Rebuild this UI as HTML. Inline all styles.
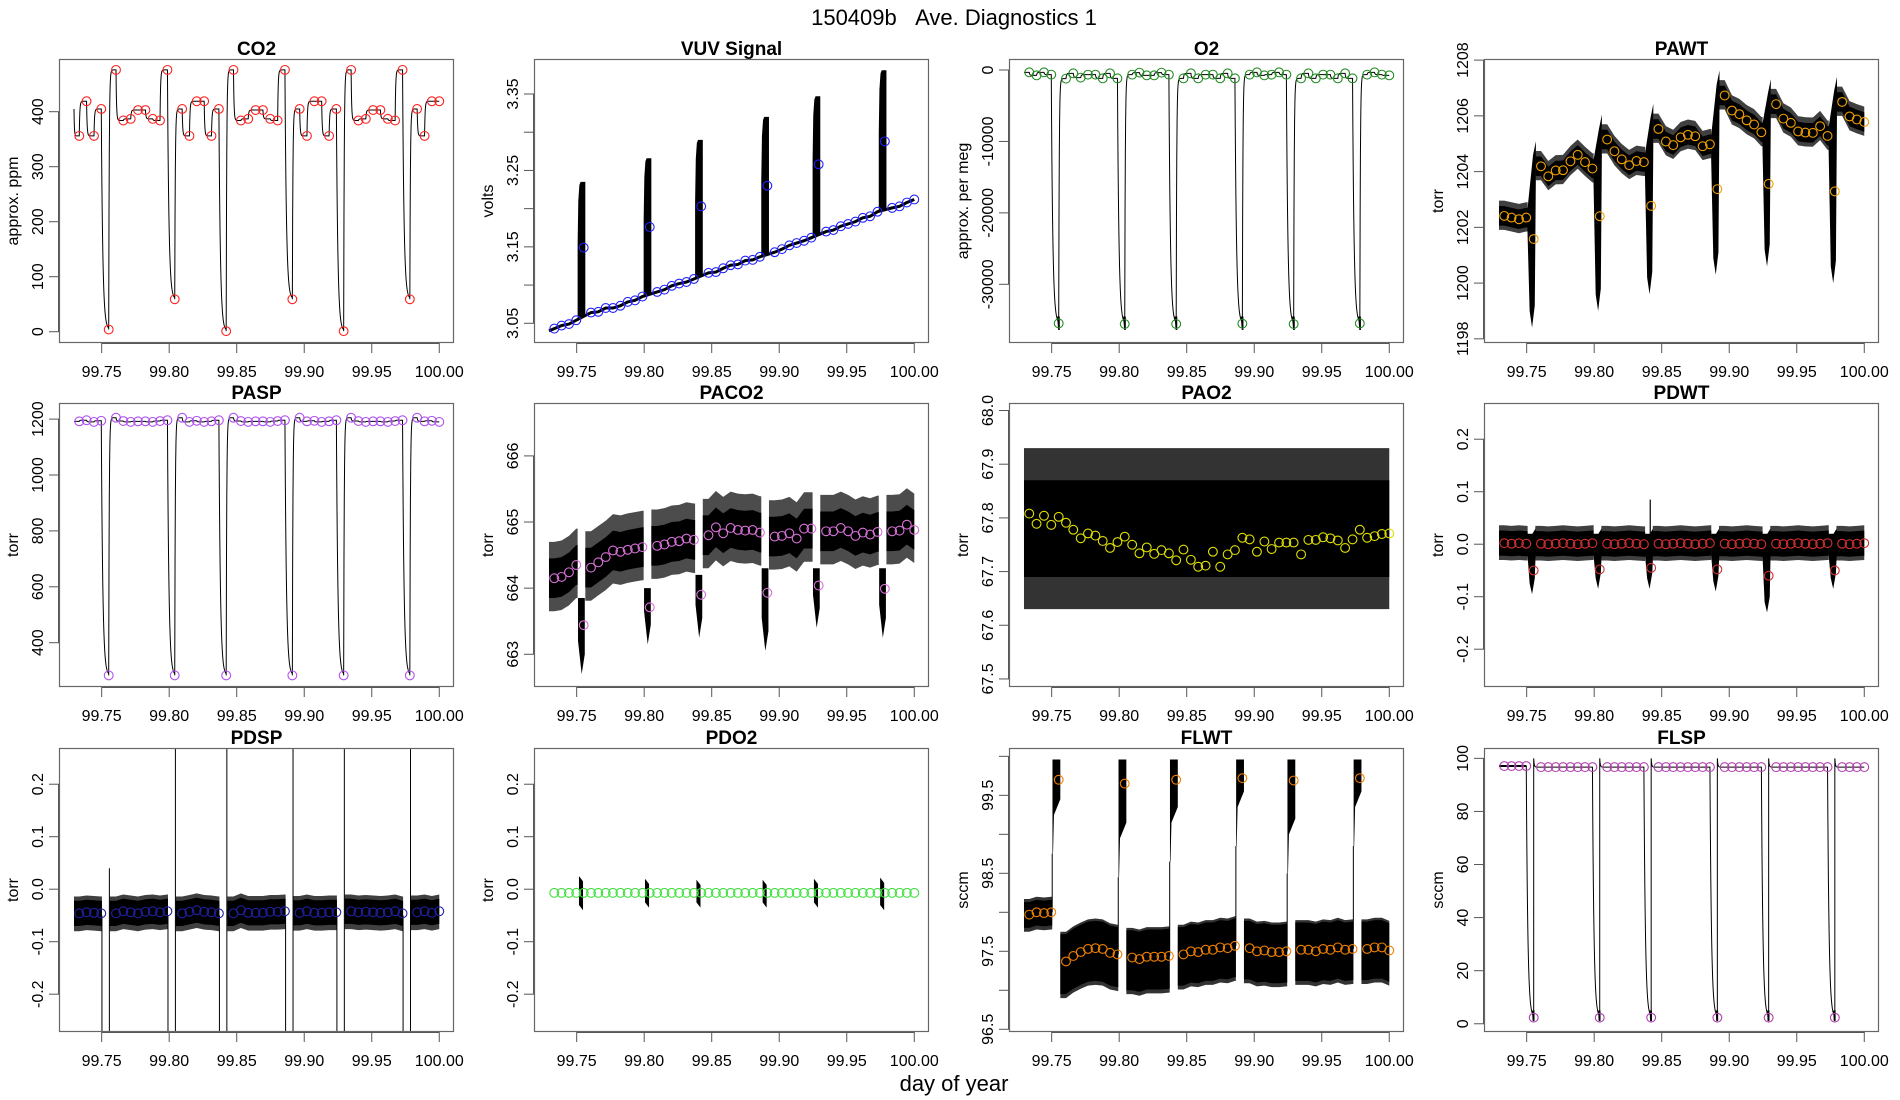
<!DOCTYPE html>
<html><head><meta charset="utf-8"><title>150409b Ave. Diagnostics 1</title>
<style>
html,body{margin:0;padding:0;background:#fff;}
svg{display:block;font-family:"Liberation Sans",sans-serif;}
</style></head>
<body>
<svg id="chart" width="1900" height="1100" viewBox="0 0 1900 1100" xmlns="http://www.w3.org/2000/svg">
<rect x="0" y="0" width="1900" height="1100" fill="#fff"/>
<text x="954" y="25" font-size="22" text-anchor="middle">150409b&#160;&#160;&#160;Ave. Diagnostics 1</text>
<text x="954" y="1091" font-size="22" text-anchor="middle">day of year</text>
</svg>
<script>
// ---------- shared data ----------
const sampleDays = [99.7334,99.7388,99.7443,99.7497,99.7552,99.7606,99.7660,99.7715,99.7769,99.7824,99.7878,99.7932,99.7987,99.8041,99.8096,99.8150,99.8204,99.8259,99.8313,99.8368,99.8422,99.8476,99.8531,99.8585,99.8640,99.8694,99.8748,99.8803,99.8857,99.8912,99.8966,99.9020,99.9075,99.9129,99.9184,99.9238,99.9292,99.9347,99.9401,99.9456,99.9510,99.9564,99.9619,99.9673,99.9728,99.9782,99.9836,99.9891,99.9945,100.0000];
const calIdx = [4,13,20,29,36,45];
const firstDay = 99.7295;
const xTicks = [99.75,99.80,99.85,99.90,99.95,100.00];
const xTickLabels = ["99.75","99.80","99.85","99.90","99.95","100.00"];

// ---------- per-panel data ----------
const co2Vals = [356,419,356,405,4,476,384,387,403,403,387,384,476,59,405,356,419,419,356,405,1,476,384,387,403,403,387,384,476,59,405,356,419,419,356,405,1,476,384,387,403,403,387,384,476,59,405,356,419,419];
const co2Start = 405;
const co2Ticks = [0,100,200,300,400];
const co2TickLabels = ["0","100","200","300","400"];

const vuvVals = [3.043,3.047,3.049,3.054,3.149,3.064,3.065,3.070,3.070,3.073,3.078,3.080,3.085,3.176,3.091,3.094,3.099,3.102,3.104,3.108,3.203,3.116,3.117,3.122,3.126,3.127,3.132,3.133,3.137,3.230,3.143,3.147,3.152,3.155,3.158,3.162,3.258,3.170,3.172,3.177,3.180,3.183,3.188,3.190,3.196,3.288,3.201,3.203,3.208,3.212];
const vuvPeaks = [3.235,3.266,3.290,3.320,3.347,3.381];
const vuvStart = 3.040;
const vuvTicks = [3.05,3.10,3.15,3.20,3.25,3.30,3.35];
const vuvTickLabels = ["3.05","","3.15","","3.25","","3.35"];

const o2Vals = [-330,-750,-330,-650,-35470,-1210,-470,-1070,-650,-650,-1170,-470,-1170,-35560,-650,-370,-750,-750,-370,-650,-35560,-1170,-470,-1170,-650,-650,-1170,-470,-1170,-35510,-650,-330,-750,-650,-330,-650,-35560,-1170,-470,-1170,-650,-650,-1170,-470,-1170,-35470,-650,-330,-650,-750];
const o2Ticks = [0,-10000,-20000,-30000];
const o2TickLabels = ["0","-10000","-20000","-30000"];

const pawtVals = [1202.41,1202.35,1202.29,1202.35,1201.58,1204.19,1203.83,1204.04,1204.05,1204.37,1204.60,1204.34,1204.11,1202.40,1205.15,1204.73,1204.44,1204.23,1204.38,1204.34,1202.77,1205.53,1205.08,1204.95,1205.23,1205.32,1205.27,1204.91,1204.98,1203.37,1206.73,1206.19,1206.06,1205.84,1205.69,1205.41,1203.56,1206.42,1205.90,1205.75,1205.44,1205.40,1205.39,1205.63,1205.28,1203.29,1206.50,1205.98,1205.87,1205.78];
const pawtDipMin = [1198.4,1199.0,1199.6,1200.3,1200.6,1200.0];
const pawtTicks = [1198,1200,1202,1204,1206,1208];
const pawtTickLabels = ["1198","1200","1202","1204","1206","1208"];

const paspVals = [1192,1196,1190,1194,283,1205,1193,1190,1192,1192,1190,1193,1196,283,1205,1190,1194,1190,1192,1196,283,1205,1193,1190,1192,1192,1190,1193,1196,283,1205,1192,1194,1190,1192,1196,283,1205,1193,1190,1192,1192,1190,1193,1196,283,1205,1192,1194,1190];
const paspTicks = [400,600,800,1000,1200];
const paspTickLabels = ["400","600","800","1000","1200"];

const paco2Vals = [664.15,664.17,664.24,664.35,663.44,664.31,664.39,664.47,664.57,664.55,664.58,664.60,664.62,663.71,664.64,664.66,664.70,664.71,664.75,664.73,663.90,664.80,664.92,664.83,664.91,664.88,664.87,664.88,664.84,663.93,664.78,664.79,664.83,664.75,664.90,664.90,664.04,664.86,664.86,664.91,664.86,664.79,664.84,664.81,664.85,663.99,664.86,664.87,664.96,664.88];
const paco2DipMin = [662.7,663.15,663.25,663.05,663.4,663.25];
const paco2DipMax = [663.85,664.0,664.2,664.3,664.3,664.3];
const paco2Ticks = [663,664,665,666];
const paco2TickLabels = ["663","664","665","666"];

const pao2Vals = [67.808,67.789,67.804,67.787,67.802,67.791,67.778,67.762,67.771,67.767,67.757,67.744,67.755,67.765,67.750,67.734,67.745,67.733,67.740,67.734,67.721,67.741,67.722,67.709,67.711,67.737,67.709,67.732,67.740,67.763,67.760,67.737,67.756,67.742,67.754,67.754,67.754,67.732,67.759,67.759,67.764,67.762,67.758,67.744,67.760,67.778,67.763,67.766,67.770,67.771];
const pao2Dense = [67.69,67.87];
const pao2Sparse = [67.63,67.93];
const pao2Ticks = [67.5,67.6,67.7,67.8,67.9,68.0];
const pao2TickLabels = ["67.5","67.6","67.7","67.8","67.9","68.0"];

const pdwtVals = [0.002,0.001,0.002,0.001,-0.050,0.001,0.000,0.001,0.002,0.001,0.000,0.001,0.002,-0.048,0.001,0.000,0.001,0.002,0.001,0.000,-0.045,0.001,0.000,0.001,0.002,0.001,0.000,0.001,0.002,-0.048,0.001,0.000,0.001,0.002,0.001,0.000,-0.060,0.001,0.000,0.001,0.002,0.001,0.000,0.001,0.002,-0.050,0.001,0.000,0.001,0.002];
const pdwtDipMin = [-0.095,-0.085,-0.085,-0.09,-0.13,-0.085];
const pdwtSpikeDay = [99.8415];
const pdwtSpikeVal = [0.085];

const pdspVals = [-0.046,-0.044,-0.045,-0.046,null,-0.046,-0.042,-0.044,-0.046,-0.043,-0.042,-0.044,-0.042,null,-0.046,-0.043,-0.040,-0.043,-0.044,-0.046,null,-0.046,-0.040,-0.045,-0.045,-0.045,-0.043,-0.043,-0.042,null,-0.045,-0.042,-0.045,-0.045,-0.044,-0.044,null,-0.042,-0.044,-0.043,-0.044,-0.045,-0.044,-0.042,-0.046,null,-0.044,-0.042,-0.045,-0.042];
const pdspTopStart = [0.04,0.27,0.27,0.27,0.27,0.27];

const pdo2Vals = [-0.007,-0.007,-0.007,-0.007,-0.007,-0.007,-0.007,-0.007,-0.007,-0.007,-0.007,-0.007,-0.007,-0.007,-0.007,-0.007,-0.007,-0.007,-0.007,-0.007,-0.007,-0.007,-0.007,-0.007,-0.007,-0.007,-0.007,-0.007,-0.007,-0.007,-0.007,-0.007,-0.007,-0.007,-0.007,-0.007,-0.007,-0.007,-0.007,-0.007,-0.007,-0.007,-0.007,-0.007,-0.007,-0.007,-0.007,-0.007,-0.007,-0.007];
const pdo2SpikeLow = [-0.040,-0.035,-0.035,-0.035,-0.035,-0.040];
const pdo2SpikeHigh = [0.025,0.020,0.018,0.018,0.020,0.022];
const pdTicks = [-0.2,-0.1,0.0,0.1,0.2];
const pdTickLabels = ["-0.2","-0.1","0.0","0.1","0.2"];

const flwtVals = [97.97,98.00,97.99,98.00,99.70,97.37,97.44,97.49,97.53,97.54,97.53,97.48,97.46,99.65,97.42,97.40,97.43,97.43,97.43,97.44,99.70,97.46,97.50,97.49,97.52,97.52,97.55,97.54,97.57,99.72,97.54,97.50,97.51,97.49,97.49,97.50,99.69,97.52,97.52,97.50,97.53,97.52,97.55,97.52,97.53,99.72,97.53,97.55,97.55,97.51];
const flwtSpikeLow = [99.35,99.05,99.25,99.45,99.1,99.45];
const flwtSpikeTop = [99.96,99.96,99.96,99.96,99.96,99.96];
const flwtTicks = [96.5,97.0,97.5,98.0,98.5,99.0,99.5,100.0];
const flwtTickLabels = ["96.5","","97.5","","98.5","","99.5",""];

const flspVals = [97.1,97.1,97.1,97.1,2.3,96.7,96.7,96.7,96.7,96.7,96.7,96.7,96.7,2.3,96.7,96.7,96.7,96.7,96.7,96.7,2.3,96.7,96.7,96.7,96.7,96.7,96.7,96.7,96.7,2.3,96.7,96.7,96.7,96.7,96.7,96.7,2.3,96.7,96.7,96.7,96.7,96.7,96.7,96.7,96.7,2.3,96.7,96.7,96.7,96.7];
const flspPeak = 100;
const flspTicks = [0,20,40,60,80,100];
const flspTickLabels = ["0","20","40","60","80","100"];

// ---------- layout ----------
const NS = "http://www.w3.org/2000/svg";
const svg = document.getElementById('chart');
const LEFTS = [59,534,1009,1484], TOPS = [59,403,748], PW = 395, PH = 284;
const XMIN = 99.7184, PXD = 1350.4;
const calSet = new Set(calIdx);

function el(tag, attrs, parent){
  const e = document.createElementNS(NS, tag);
  for (const k in attrs) e.setAttribute(k, attrs[k]);
  parent.appendChild(e);
  return e;
}

function makePanel(row, col, name, title, ylab, lim, ticks, labels){
  const L = LEFTS[col], T = TOPS[row];
  const g = el('g', {}, svg);
  
  
  const x = d => L + (d - XMIN) * PXD;
  const y = v => T + PH * (lim[1] - v) / (lim[1] - lim[0]);
  const cid = 'clip-' + name;
  const cp = el('clipPath', {id: cid}, g);
  el('rect', {x: L, y: T, width: PW, height: PH}, cp);
  const plot = el('g', {'clip-path': 'url(#' + cid + ')'}, g);
  
  
  const front = el('g', {}, g);
  const t = el('text', {x: L + PW/2, y: T - 4, 'font-size': 19, 'font-weight': 'bold', 'text-anchor': 'middle'}, g);
  t.textContent = title;
  
  
  const yl = el('text', {x: L - 41, y: T + PH/2, 'font-size': 16, 'text-anchor': 'middle', transform: 'rotate(-90 ' + (L - 41) + ' ' + (T + PH/2) + ')'}, g);
  yl.textContent = ylab;
  
  
  const ya = el('g', {}, g);
  
  
  el('line', {x1: L - 0.5, x2: L - 0.5, y1: y(ticks[0]), y2: y(ticks[ticks.length-1]), stroke: '#555'}, ya);
  ticks.forEach((v, i) => {
    const yy = y(v);
    el('line', {x1: L - 10, x2: L, y1: yy, y2: yy, stroke: '#555'}, ya);
    if (labels[i]) {
      const tl = el('text', {x: L - 16, y: yy, 'font-size': 16, 'text-anchor': 'middle', transform: 'rotate(-90 ' + (L - 16) + ' ' + yy + ')'}, ya);
      tl.textContent = labels[i];
      
      
    }
  });
  const xa = el('g', {}, g);
  
  
  const B = T + PH;
  el('line', {x1: x(xTicks[0]), x2: x(xTicks[xTicks.length-1]), y1: B + 0.5, y2: B + 0.5, stroke: '#555'}, xa);
  xTicks.forEach((d, i) => {
    const xx = x(d);
    el('line', {x1: xx, x2: xx, y1: B, y2: B + 10, stroke: '#555'}, xa);
    const tl = el('text', {x: xx, y: B + 34, 'font-size': 16, 'text-anchor': 'middle'}, xa);
    tl.textContent = xTickLabels[i];
    
    
  });
  const fr = el('rect', {x: L + 0.5, y: T + 0.5, width: PW - 1, height: PH - 1, fill: 'none', stroke: '#666', 'stroke-width': 1.2}, g);
  
  
  return {plot, front, x, y, name, lim};
}

function drawCircles(p, vals, color){
  const cg = el('g', {}, p.plot);
  
  
  vals.forEach((v, i) => {
    if (v === null) return;
    const c = el('circle', {cx: p.x(sampleDays[i]), cy: p.y(v), r: 4.4, fill: 'none', stroke: color, 'stroke-width': 1.1}, cg);
    
    
  });
}

function stepLine(p, vals, start, peak, width){
  let d = '', prev = start;
  for (let i = 0; i < vals.length; i++) {
    const t0 = i === 0 ? firstDay : sampleDays[i-1];
    const span = sampleDays[i] - t0;
    const from = (peak !== null && calSet.has(i-1)) ? peak : prev;
    const kk = calSet.has(i) ? 5 : 14;
    for (let j = 0; j <= 24; j++) {
      const t = t0 + span * j / 24;
      const v = vals[i] + (from - vals[i]) * Math.exp(-kk * j / 24);
      d += (d ? 'L' : 'M') + p.x(t).toFixed(2) + ',' + p.y(v).toFixed(2);
    }
    prev = vals[i];
  }
  const path = el('path', {d, fill: 'none', stroke: '#000', 'stroke-width': width || 1}, p.plot);
  
  
}

function runs(){
  const r = []; let s = 0;
  calIdx.forEach(k => { r.push([s, k-1]); s = k+1; });
  r.push([s, sampleDays.length-1]);
  return r;
}

function bandPath(p, vals, a, b, tS, tE, lo, hi){
  let top = [], bot = [];
  top.push([tS, vals[a] + hi]); bot.push([tS, vals[a] - lo]);
  for (let i = a; i <= b; i++) {
    const t = Math.min(Math.max(sampleDays[i], tS), tE);
    top.push([t, vals[i] + hi]); bot.push([t, vals[i] - lo]);
  }
  top.push([tE, vals[b] + hi]); bot.push([tE, vals[b] - lo]);
  const pts = top.concat(bot.reverse());
  return 'M' + pts.map(q => p.x(q[0]).toFixed(2) + ',' + p.y(q[1]).toFixed(2)).join('L') + 'Z';
}

function drawBands(p, vals, inner, outer, innerLo, outerLo, gapAfter, gapBefore, outerOp){
  const bg = el('g', {}, p.plot);
  
  
  const rr = runs();
  rr.forEach((r, n) => {
    const tS = n === 0 ? firstDay : sampleDays[calIdx[n-1]] + gapAfter;
    const tE = n === rr.length-1 ? sampleDays[sampleDays.length-1] : sampleDays[calIdx[n]] - gapBefore;
    const o = el('path', {d: bandPath(p, vals, r[0], r[1], tS, tE, outerLo[n], outer[n]), fill: '#000', 'fill-opacity': outerOp || 0.7}, bg);
    
    
    const m = el('path', {d: bandPath(p, vals, r[0], r[1], tS, tE, innerLo[n], inner[n]), fill: '#000'}, bg);
    
    
  });
}

function poly(p, pts, name, opacity){
  const d = 'M' + pts.map(q => p.x(q[0]).toFixed(2) + ',' + p.y(q[1]).toFixed(2)).join('L') + 'Z';
  const e = el('path', {d, fill: '#000', 'fill-opacity': opacity || 1}, p.plot);
  
  
  return e;
}

function vline(p, t, v1, v2, name, w){
  const e = el('line', {x1: p.x(t), x2: p.x(t), y1: p.y(v1), y2: p.y(v2), stroke: '#000', 'stroke-width': w || 1}, p.plot);
  
  
}

const rep = (v) => [v,v,v,v,v,v,v];

// ---------- CO2 ----------
(function(){
  const p = makePanel(0, 0, 'co2', 'CO2', 'approx. ppm', [-20.5, 495.8], co2Ticks, co2TickLabels);
  stepLine(p, co2Vals, co2Start, null, 1);
  drawCircles(p, co2Vals, '#ff2020');
})();

// ---------- VUV ----------
(function(){
  const p = makePanel(0, 1, 'vuv', 'VUV Signal', 'volts', [3.0242, 3.3958], vuvTicks, vuvTickLabels);
  let d = 'M' + p.x(firstDay) + ',' + p.y(vuvStart);
  vuvVals.forEach((v, i) => { if (!calSet.has(i)) d += 'L' + p.x(sampleDays[i]).toFixed(2) + ',' + p.y(v).toFixed(2); });
  const bl = el('path', {d, fill: 'none', stroke: '#000', 'stroke-width': 3}, p.plot);
  
  
  calIdx.forEach((k, n) => {
    const xs = sampleDays[k] - 0.0045, xe = sampleDays[k] + 0.0012;
    const bL = vuvVals[k-1] + 0.002, bR = vuvVals[k+1] - 0.003;
    const pk = vuvPeaks[n];
    poly(p, [[xs, bL], [xs, bL + 0.55*(pk-bL)], [xs+0.0005, pk-0.025], [xs+0.0013, pk-0.004], [xs+0.0022, pk], [xe, pk], [xe, bR]], 'vuv-calibration-spike');
  });
  drawCircles(p, vuvVals, '#2020ff');
})();

// ---------- O2 ----------
(function(){
  const p = makePanel(0, 2, 'o2', 'O2', 'approx. per meg', [-38218, 1540], o2Ticks, o2TickLabels);
  stepLine(p, o2Vals, o2Vals[0], null, 1);
  calIdx.forEach(k => { poly(p, [[sampleDays[k]-0.0012, -34500], [sampleDays[k]+0.0008, -34500], [sampleDays[k]+0.0008, -36400], [sampleDays[k]-0.0004, -36400]], 'o2-calibration-blob'); });
  drawCircles(p, o2Vals, '#228b22');
})();

// ---------- PAWT ----------
(function(){
  const p = makePanel(0, 3, 'pawt', 'PAWT', 'torr', [1197.85, 1208.04], pawtTicks, pawtTickLabels);
  drawBands(p, pawtVals, rep(0.35), rep(0.55), rep(0.35), rep(0.5), 0.0015, 0.0045, 0.75);
  calIdx.forEach((k, n) => {
    const c = sampleDays[k], mn = pawtDipMin[n];
    poly(p, [[c-0.0046, pawtVals[k-1]+0.3], [c-0.0046, pawtVals[k-1]-0.5], [c-0.003, mn+0.6], [c-0.0012, mn], [c+0.0008, mn+0.8], [c+0.0016, pawtVals[k+1]-0.4], [c+0.0016, pawtVals[k+1]+0.9], [c-0.0005, pawtVals[k+1]+0.4]], 'pawt-calibration-dip');
  });
  drawCircles(p, pawtVals, '#f0a000');
})();

// ---------- PASP ----------
(function(){
  const p = makePanel(1, 0, 'pasp', 'PASP', 'torr', [241.5, 1257.6], paspTicks, paspTickLabels);
  stepLine(p, paspVals, paspVals[0], null, 1);
  drawCircles(p, paspVals, '#b050f0');
})();

// ---------- PACO2 ----------
(function(){
  const p = makePanel(1, 1, 'paco2', 'PACO2', 'torr', [662.505, 666.80], paco2Ticks, paco2TickLabels);
  drawBands(p, paco2Vals, rep(0.3), rep(0.55), rep(0.3), rep(0.5), 0.0012, 0.0045, 0.7);
  calIdx.forEach((k, n) => {
    const c = sampleDays[k];
    poly(p, [[c-0.0042, paco2DipMax[n]], [c+0.0008, paco2DipMax[n]], [c+0.0008, paco2DipMin[n]+0.3], [c-0.0015, paco2DipMin[n]], [c-0.0042, paco2DipMin[n]+0.5]], 'paco2-calibration-dip');
  });
  drawCircles(p, paco2Vals, '#d870d8');
})();

// ---------- PAO2 ----------
(function(){
  const p = makePanel(1, 2, 'pao2', 'PAO2', 'torr', [67.485, 68.014], pao2Ticks, pao2TickLabels);
  const t0 = firstDay, t1 = sampleDays[sampleDays.length-1];
  poly(p, [[t0, pao2Sparse[1]], [t1, pao2Sparse[1]], [t1, pao2Sparse[0]], [t0, pao2Sparse[0]]], 'pao2-noise-outer', 0.8);
  poly(p, [[t0, pao2Dense[1]], [t1, pao2Dense[1]], [t1, pao2Dense[0]], [t0, pao2Dense[0]]], 'pao2-noise-inner');
  drawCircles(p, pao2Vals, '#e0e000');
})();

// ---------- PDWT ----------
(function(){
  const p = makePanel(1, 3, 'pdwt', 'PDWT', 'torr', [-0.272, 0.269], pdTicks, pdTickLabels);
  drawBands(p, pdwtVals, rep(0.024), rep(0.034), rep(0.024), rep(0.032), 0.0012, 0.0045, 0.75);
  calIdx.forEach((k, n) => {
    const c = sampleDays[k], mn = pdwtDipMin[n];
    poly(p, [[c-0.0046, 0.02], [c-0.0046, -0.02], [c-0.003, mn+0.02], [c-0.0012, mn], [c+0.0008, mn+0.03], [c+0.0014, -0.02], [c+0.0014, 0.03], [c-0.001, 0.02]], 'pdwt-calibration-dip');
  });
  pdwtSpikeDay.forEach((d, i) => vline(p, d, 0, pdwtSpikeVal[i], 'pdwt-spike', 1.2));
  drawCircles(p, pdwtVals, '#d03030');
})();

// ---------- PDSP ----------
(function(){
  const p = makePanel(2, 0, 'pdsp', 'PDSP', 'torr', [-0.272, 0.269], pdTicks, pdTickLabels);
  const fill = pdspVals.map(v => v === null ? -0.045 : v);
  drawBands(p, fill, rep(0.024), rep(0.032), rep(0.024), rep(0.034), 0.0008, 0.005, 0.75);
  calIdx.forEach((k, n) => {
    const c = sampleDays[k];
    vline(p, c - 0.005, -0.05, -0.28, 'pdsp-calibration-line');
    vline(p, c + 0.0005, pdspTopStart[n], -0.28, 'pdsp-calibration-line');
  });
  drawCircles(p, pdspVals, '#2020a0');
})();

// ---------- PDO2 ----------
(function(){
  const p = makePanel(2, 1, 'pdo2', 'PDO2', 'torr', [-0.272, 0.269], pdTicks, pdTickLabels);
  calIdx.forEach((k, n) => {
    const c = sampleDays[k];
    poly(p, [[c-0.0035, pdo2SpikeHigh[n]], [c-0.0005, pdo2SpikeHigh[n]-0.01], [c-0.0005, pdo2SpikeLow[n]], [c-0.0035, pdo2SpikeLow[n]+0.01]], 'pdo2-calibration-spike');
  });
  drawCircles(p, pdo2Vals, '#40e040');
})();

// ---------- FLWT ----------
(function(){
  const p = makePanel(2, 2, 'flwt', 'FLWT', 'sccm', [96.465, 100.107], flwtTicks, flwtTickLabels);
  drawBands(p, flwtVals, [0.16,0.35,0.35,0.35,0.35,0.35,0.35], [0.2,0.38,0.38,0.38,0.38,0.38,0.38], [0.17,0.42,0.42,0.4,0.4,0.4,0.4], [0.22,0.47,0.47,0.45,0.45,0.45,0.45], 0.0012, 0.0048, 0.8);
  calIdx.forEach((k, n) => {
    const c = sampleDays[k];
    poly(p, [[c-0.0046, flwtSpikeTop[n]], [c+0.0012, flwtSpikeTop[n]], [c+0.0012, flwtSpikeLow[n]+0.1], [c-0.0035, flwtSpikeLow[n]-0.1], [c-0.0042, flwtSpikeLow[n]-0.6], [c-0.0046, flwtSpikeLow[n]-0.6]], 'flwt-calibration-spike');
    vline(p, c - 0.0048, flwtVals[k-1], flwtSpikeLow[n] - 0.6, 'flwt-transition-line');
  });
  drawCircles(p, flwtVals, '#f08000');
})();

// ---------- FLSP ----------
(function(){
  const p = makePanel(2, 3, 'flsp', 'FLSP', 'sccm', [-3.1, 103.9], flspTicks, flspTickLabels);
  stepLine(p, flspVals, flspVals[0], flspPeak, 1);
  calIdx.forEach(k => { poly(p, [[sampleDays[k]-0.0012, 5], [sampleDays[k]+0.0006, 5], [sampleDays[k]+0.0006, 1], [sampleDays[k]-0.0008, 1]], 'flsp-calibration-blob'); });
  const top = el('path', {d: 'M' + p.x(firstDay) + ',' + p.y(flspVals[0]) + 'L' + p.x(sampleDays[3]) + ',' + p.y(flspVals[3]), stroke: '#000', 'stroke-width': 2, fill: 'none'}, p.plot);
  
  
  drawCircles(p, flspVals, '#b040b0');
})();
</script>
</body></html>
